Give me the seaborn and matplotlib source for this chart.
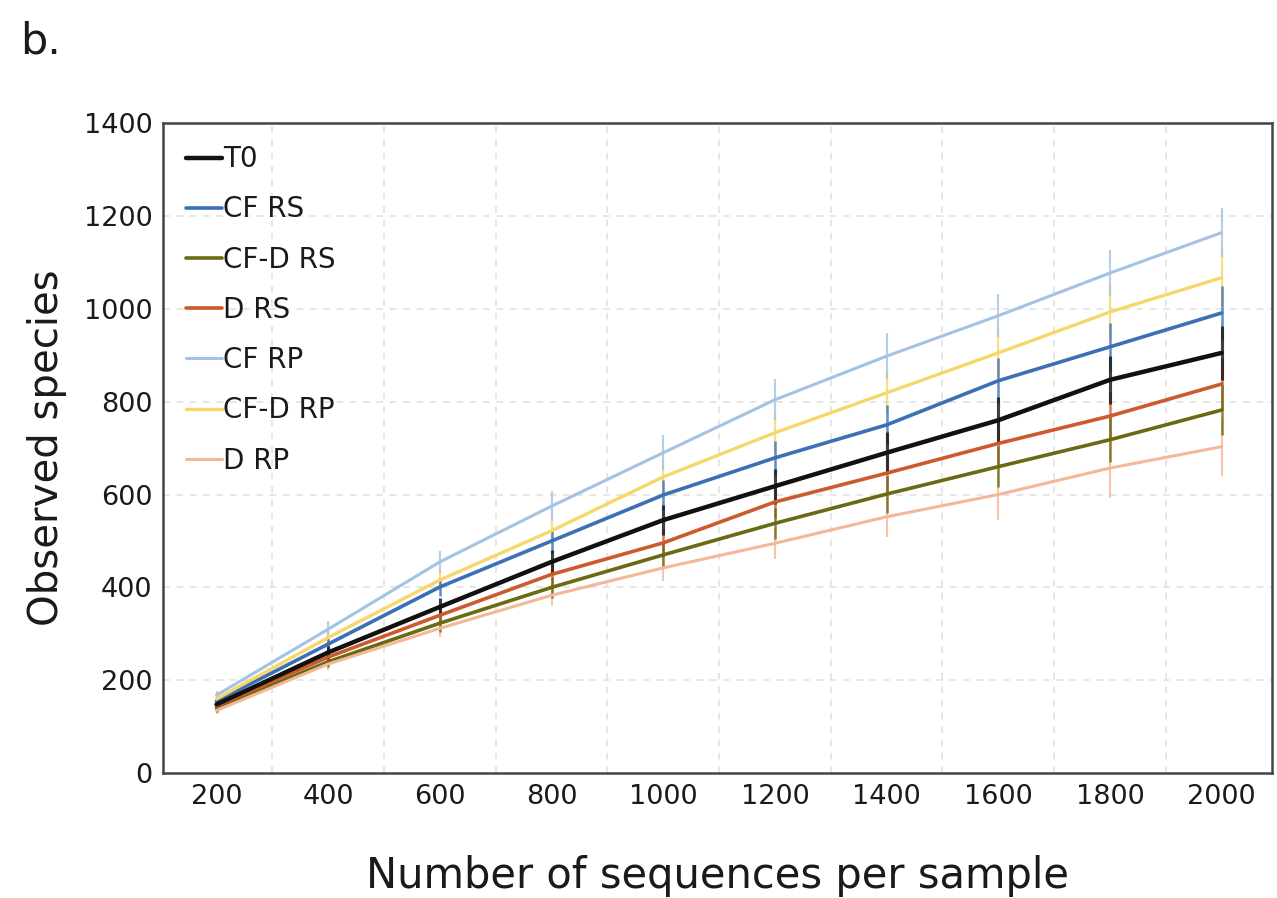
import numpy as np
import pandas as pd
import matplotlib
matplotlib.use("Agg")
import matplotlib.pyplot as plt
import seaborn as sns

# rarefaction depths
depth = [200, 400, 600, 800, 1000, 1200, 1400, 1600, 1800, 2000]

# mean observed species per group
T0 = [148, 260, 358, 455, 545, 618, 690, 760, 847, 905]
CF_RS = [155, 278, 401, 500, 599, 679, 750, 845, 918, 991]
CFD_RS = [140, 240, 323, 400, 470, 538, 601, 660, 718, 782]
D_RS = [145, 250, 340, 428, 496, 584, 646, 710, 769, 838]
CF_RP = [168, 310, 455, 575, 690, 804, 898, 985, 1077, 1164]
CFD_RP = [160, 292, 416, 522, 638, 733, 819, 905, 993, 1067]
D_RP = [135, 235, 312, 383, 442, 495, 552, 600, 657, 703]

# half-width of error bars
T0_err = [8, 14, 20, 25, 32, 38, 44, 50, 52, 58]
CF_RS_err = [8, 14, 20, 26, 32, 36, 42, 48, 52, 58]
CFD_RS_err = [8, 12, 18, 22, 28, 34, 40, 44, 48, 54]
D_RS_err = [8, 12, 18, 24, 30, 34, 40, 46, 52, 56]
CF_RP_err = [10, 18, 24, 32, 38, 44, 50, 46, 50, 52]
CFD_RP_err = [10, 16, 22, 28, 34, 40, 46, 52, 58, 62]
D_RP_err = [8, 12, 18, 22, 28, 34, 44, 54, 64, 62]

names = ["T0", "CF RS", "CF-D RS", "D RS", "CF RP", "CF-D RP", "D RP"]
means = [T0, CF_RS, CFD_RS, D_RS, CF_RP, CFD_RP, D_RP]
errs = [T0_err, CF_RS_err, CFD_RS_err, D_RS_err, CF_RP_err, CFD_RP_err, D_RP_err]
colors = {"T0": "#111111", "CF RS": "#3b70b4", "CF-D RS": "#6a6a12",
          "D RS": "#cc5a2c", "CF RP": "#a4c3e3", "CF-D RP": "#f6d76a",
          "D RP": "#f2b898"}
widths = {"T0": 3.2, "CF RS": 2.6, "CF-D RS": 2.6, "D RS": 2.6,
          "CF RP": 2.2, "CF-D RP": 2.4, "D RP": 2.2}

rows = []
for n, m in zip(names, means):
    for d, v in zip(depth, m):
        rows.append({"depth": d, "species": v, "group": n})
df = pd.DataFrame(rows)

sns.set_style("white")
plt.rcParams['font.family'] = ['DejaVu Sans']
txt = "#1a1a1a"

fig = plt.figure(figsize=(12.77, 8.98), dpi=100)
ax = fig.add_axes([0.128, 0.139, 0.868, 0.724])

# dashed grid: horizontal at y ticks, vertical between x ticks
for yy in range(200, 1400, 200):
    ax.axhline(yy, color="#e2e2e2", lw=1.2, ls=(0, (4, 4)), zorder=0)
for xx in range(300, 2000, 200):
    ax.axvline(xx, color="#e2e2e2", lw=1.2, ls=(0, (4, 4)), zorder=0)

# draw back to front so T0 ends on top
order = ["D RP", "CF-D RP", "CF RP", "D RS", "CF-D RS", "CF RS", "T0"]
for n in order:
    i = names.index(n)
    ax.errorbar(depth, means[i], yerr=errs[i], fmt="none",
                ecolor=colors[n], elinewidth=widths[n] * 0.7, capsize=0,
                alpha=0.8, zorder=2)

sns.lineplot(data=df, x="depth", y="species", hue="group",
             hue_order=names, palette=colors, ax=ax, legend=False, zorder=3)
for line, n in zip(ax.get_lines()[-len(names):], names):
    line.set_linewidth(widths[n])
# bring T0 to the front
ax.get_lines()[-len(names)].set_zorder(5)

handles = [plt.Line2D([], [], color=colors[n], lw=widths[n]) for n in names]
leg = ax.legend(handles, names, loc="upper left", frameon=False, fontsize=20,
                handlelength=1.3, handletextpad=0.05, labelspacing=0.8,
                borderaxespad=0.4, bbox_to_anchor=(0.0, 1.0))
for t in leg.get_texts():
    t.set_color(txt)

ax.set_xlim(105, 2090)
ax.set_ylim(0, 1400)
ax.set_xticks(depth)
ax.set_yticks(range(0, 1401, 200))
ax.tick_params(axis="both", length=0, labelsize=19.5, colors=txt, pad=8)
ax.set_xlabel("Number of sequences per sample", fontsize=30, color=txt,
              labelpad=32)
ax.set_ylabel("Observed species", fontsize=29, color=txt, labelpad=12)
for s in ax.spines.values():
    s.set_color("#444444")
    s.set_linewidth(1.8)

fig.text(0.016, 0.94, "b.", fontsize=31, color=txt)

fig.savefig("out.png", dpi=100)
